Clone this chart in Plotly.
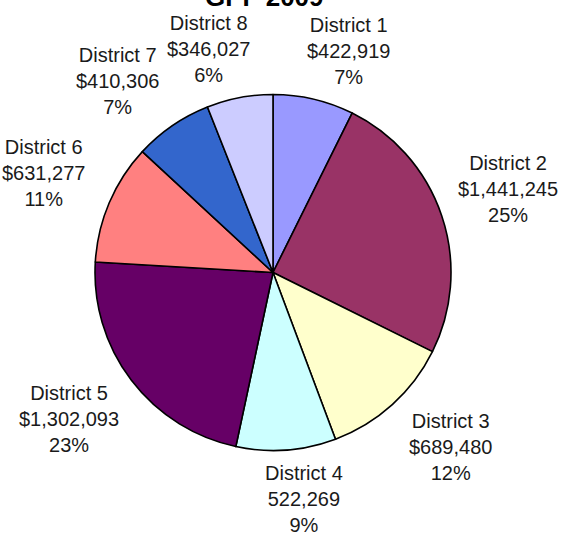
import math
import plotly.graph_objects as go

districts = ["District 1", "District 2", "District 3", "District 4",
             "District 5", "District 6", "District 7", "District 8"]
amounts = [422919, 1441245, 689480, 522269, 1302093, 631277, 410306, 346027]
prefixes = ["$", "$", "$", "", "$", "$", "$", "$"]
colors = ["#9999FF", "#993366", "#FFFFCC", "#CCFFFF",
          "#660066", "#FF8080", "#3366CC", "#CCCCFF"]
title_text = "GPF 2009"

W, H = 566, 541
cx, cy, R = 273, 272.5, 178

fig = go.Figure(go.Pie(
    labels=districts,
    values=amounts,
    sort=False,
    direction="clockwise",
    rotation=0,
    marker=dict(colors=colors, line=dict(color="#000000", width=1.6)),
    textinfo="none",
    hoverinfo="label+value+percent",
    showlegend=False,
    domain=dict(x=[(cx - R) / W, (cx + R) / W],
                y=[1 - (cy + R) / H, 1 - (cy - R) / H]),
))

total = sum(amounts)
annotations = []
cum = 0
a_x, b_y, ex, ey = 245, 227, 0.8, 0.88
for name, v, pre in zip(districts, amounts, prefixes):
    mid = (cum + v / 2) / total * 2 * math.pi
    cum += v
    s, c = math.sin(mid), math.cos(mid)
    px = cx + a_x * math.copysign(abs(s) ** ex, s)
    py = cy - b_y * math.copysign(abs(c) ** ey, c)
    pct = round(v / total * 100)
    annotations.append(dict(
        x=px / W, y=1 - py / H, xref="paper", yref="paper",
        xanchor="center", yanchor="middle", showarrow=False, align="center",
        text=f"{name}<br>{pre}{v:,}<br>{pct}%",
        font=dict(family="Liberation Sans, Arial, sans-serif", size=20, color="#1a1a1a"),
    ))

annotations.append(dict(
    x=264 / W, y=1 - 14 / H, xref="paper", yref="paper",
    xanchor="center", yanchor="bottom", showarrow=False,
    text=f"<b>{title_text}</b>",
    font=dict(family="Liberation Sans, Arial, sans-serif", size=26, color="#000000"),
))

fig.update_layout(
    width=W, height=H,
    margin=dict(l=0, r=0, t=0, b=0),
    paper_bgcolor="white", plot_bgcolor="white",
    annotations=annotations,
)

fig.write_html("out.html")
